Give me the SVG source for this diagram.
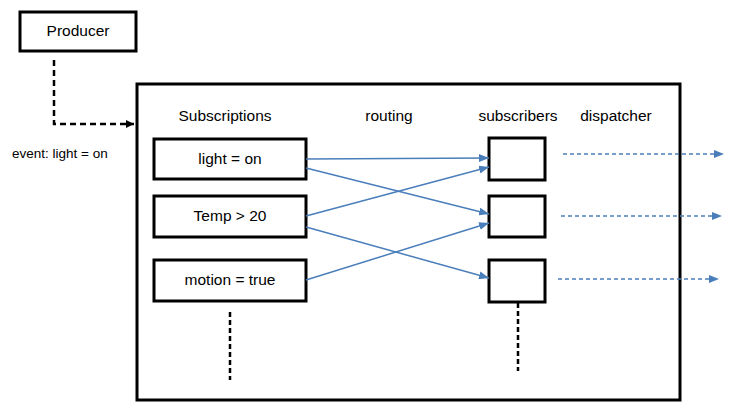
<svg xmlns="http://www.w3.org/2000/svg" width="736" height="420" viewBox="0 0 736 420">
<defs>
<style>
.box{fill:#fff;stroke:#000;stroke-width:3}
.t{font-family:"Liberation Sans",Arial,sans-serif;font-size:15.5px;fill:#000;text-anchor:middle}
.blue{stroke:#4a7ebb;stroke-width:1.5;fill:none}
.bdash{stroke:#4a7ebb;stroke-width:1.5;fill:none;stroke-dasharray:4 3}
.kdash{stroke:#000;stroke-width:2.5;fill:none;stroke-dasharray:6 4}
.kdash2{stroke:#000;stroke-width:2.5;fill:none;stroke-dasharray:5 3}
</style>
<marker id="ab" markerWidth="10" markerHeight="8" refX="10" refY="4" orient="auto" markerUnits="userSpaceOnUse">
<path d="M0,0 L10,4 L0,8 z" fill="#4a7ebb"/>
</marker>
<marker id="ak" markerWidth="8" markerHeight="8" refX="8" refY="4" orient="auto" markerUnits="userSpaceOnUse">
<path d="M0,0 L8,4 L0,8 z" fill="#000"/>
</marker>
</defs>
<rect width="736" height="420" fill="#fff"/>
<g id="container">
<rect class="box" x="137" y="84" width="543" height="316"/>
</g>
<g id="producer">
<rect class="box" x="20" y="12" width="116" height="39"/>
<text class="t" x="78" y="36">Producer</text>
</g>
<text id="event-label" x="12" y="158" font-family="Liberation Sans, Arial, sans-serif" font-size="13.5" fill="#000">event: light = on</text>
<g id="headers">
<text class="t" x="225" y="121">Subscriptions</text>
<text class="t" x="389" y="121">routing</text>
<text class="t" x="518" y="121">subscribers</text>
<text class="t" x="616" y="121">dispatcher</text>
</g>
<g id="sub-light">
<rect class="box" x="154" y="139" width="152" height="40"/>
<text class="t" x="230" y="164">light = on</text>
</g>
<g id="sub-temp">
<rect class="box" x="154" y="196" width="152" height="41"/>
<text class="t" x="230" y="221">Temp &gt; 20</text>
</g>
<g id="sub-motion">
<rect class="box" x="154" y="260" width="152" height="41"/>
<text class="t" x="230" y="285">motion = true</text>
</g>
<g id="subscriber1"><rect class="box" x="489" y="138" width="56" height="42"/></g>
<g id="subscriber2"><rect class="box" x="489" y="196" width="56" height="41"/></g>
<g id="subscriber3"><rect class="box" x="489" y="260" width="56" height="42"/></g>
<g id="connectors">
<path class="kdash" d="M54,60 V124 H134" marker-end="url(#ak)"/>
<line class="blue" x1="306" y1="159" x2="489" y2="158" marker-end="url(#ab)"/>
<line class="blue" x1="306" y1="168" x2="489" y2="214" marker-end="url(#ab)"/>
<line class="blue" x1="306" y1="216" x2="489" y2="167" marker-end="url(#ab)"/>
<line class="blue" x1="306" y1="227" x2="489" y2="278" marker-end="url(#ab)"/>
<line class="blue" x1="306" y1="280" x2="489" y2="223" marker-end="url(#ab)"/>
<line class="bdash" x1="563" y1="154" x2="724" y2="154" marker-end="url(#ab)"/>
<line class="bdash" x1="561" y1="216" x2="722" y2="216" marker-end="url(#ab)"/>
<line class="bdash" x1="558" y1="279" x2="719" y2="279" marker-end="url(#ab)"/>
<line class="kdash2" x1="230" y1="312" x2="230" y2="380"/>
<line class="kdash2" x1="518" y1="303" x2="518" y2="371"/>
</g>
</svg>
